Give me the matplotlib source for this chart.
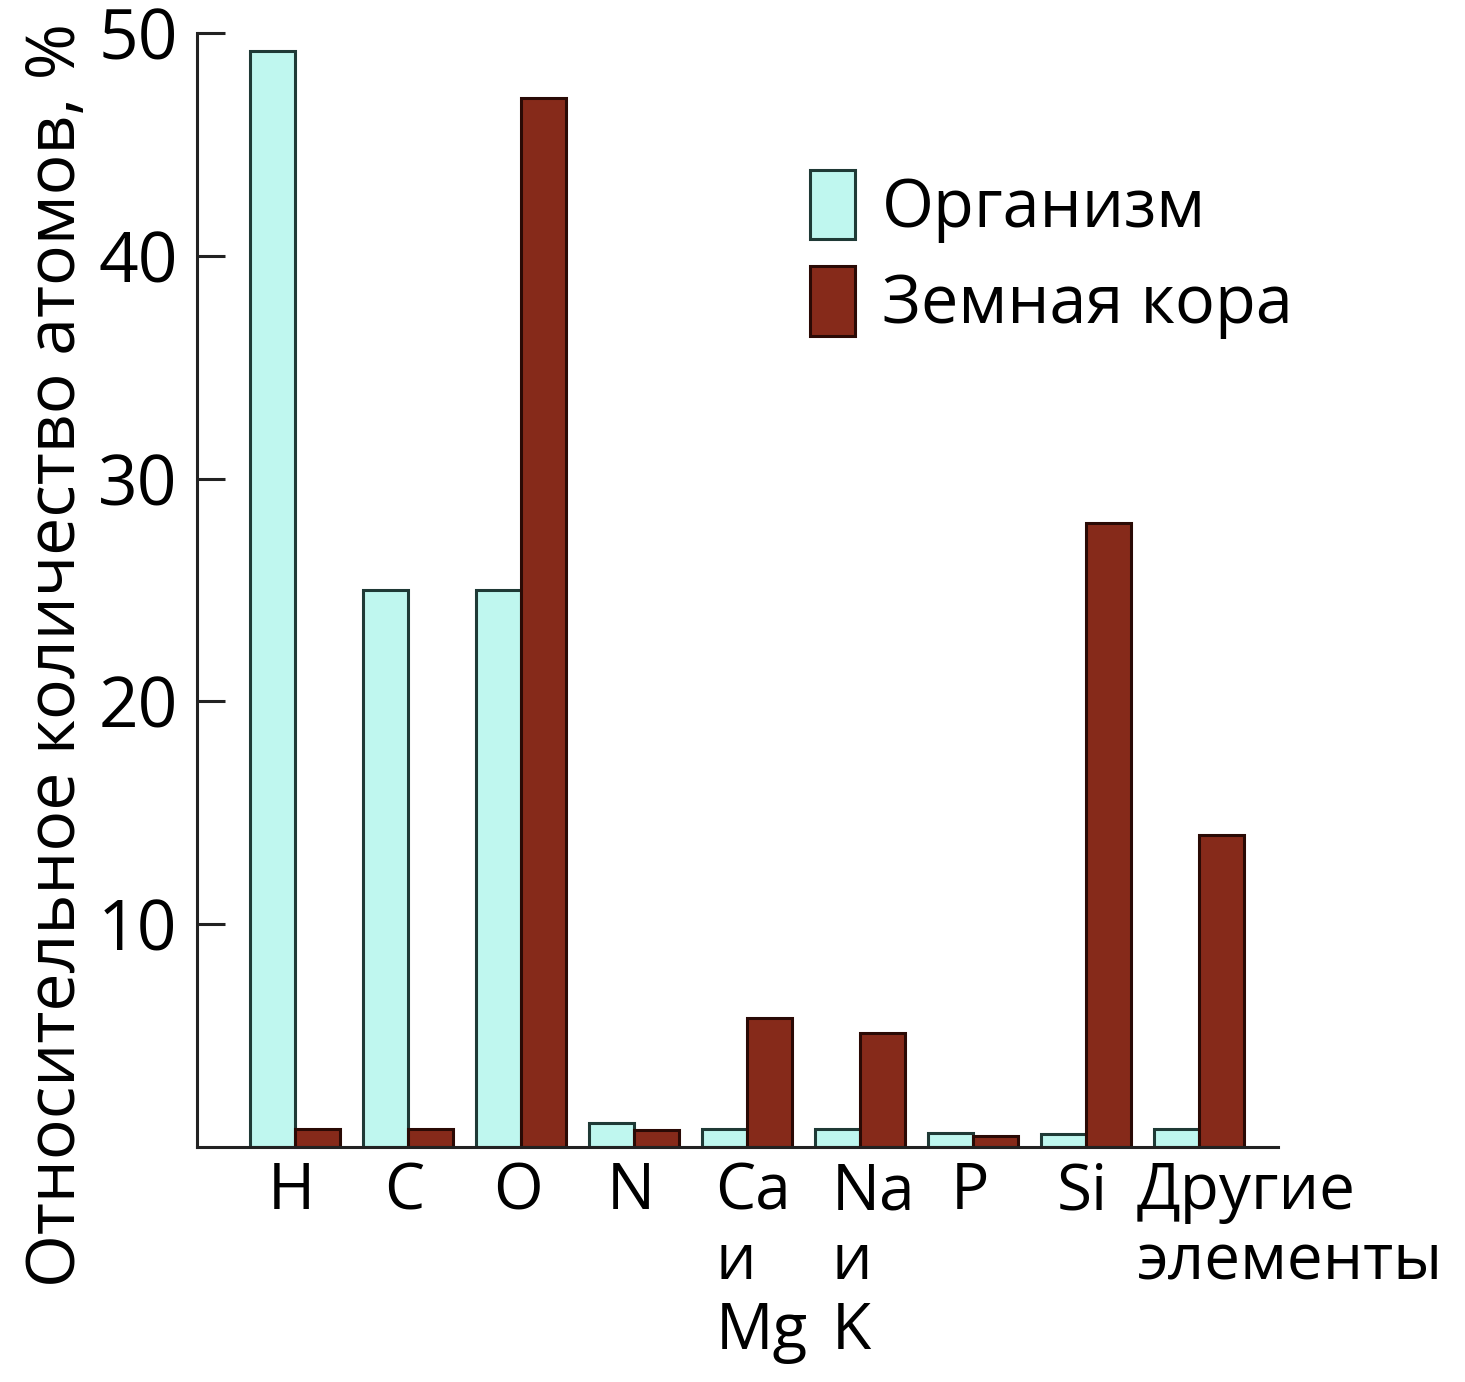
import numpy as np
import matplotlib.pyplot as plt
from matplotlib.patches import Patch

plt.rcParams['font.family'] = ['Open Sans', 'DejaVu Sans']

# Data
labels = ["H", "C", "O", "N", "Ca\nи\nMg", "Na\nи\nK", "P", "Si", "Другие\nэлементы"]
organism = [49.2, 25.0, 25.0, 1.1, 0.8, 0.8, 0.65, 0.6, 0.8]
crust = [0.8, 0.8, 47.1, 0.75, 5.8, 5.1, 0.5, 28.0, 14.0]
series_names = ["Организм", "Земная кора"]

COL_ORG = "#bff7ef"
COL_CRUST = "#862a1a"

fig = plt.figure(figsize=(14.65, 13.82), dpi=100)
ax = fig.add_axes([0.1345, 0.17, 0.7379, 0.8061])

x = np.arange(len(labels))
w = 0.4
ax.bar(x - w / 2, organism, w, color=COL_ORG, edgecolor="#1f3a36", linewidth=2.2)
ax.bar(x + w / 2, crust, w, color=COL_CRUST, edgecolor="#2a0a05", linewidth=2.2)

ax.set_xlim(-0.867, 8.70)
ax.set_ylim(0, 50)

for s in ["top", "right"]:
    ax.spines[s].set_visible(False)
for s in ["left", "bottom"]:
    ax.spines[s].set_linewidth(2.2)
    ax.spines[s].set_color("#222222")

ax.set_yticks([10, 20, 30, 40, 50])
ax.tick_params(axis="y", direction="in", length=20, width=2.2, labelsize=50, pad=14,
               color="#222222")
ax.set_xticks([])

# x labels, multi-line ones left aligned
offsets = {4: -0.28, 5: -0.25, 8: -0.55}
for i, lab in enumerate(labels):
    if i in offsets:
        ax.text(i + offsets[i], -0.012, lab, transform=ax.get_xaxis_transform(),
                ha="left", va="top", fontsize=46, linespacing=1.12)
    else:
        ax.text(i - 0.03, -0.012, lab, transform=ax.get_xaxis_transform(),
                ha="center", va="top", fontsize=46, linespacing=1.12)

ax.set_ylabel("Относительное количество атомов, %", fontsize=49)
ax.yaxis.set_label_coords(-0.098, 0.442)

handles = [Patch(facecolor=COL_ORG, edgecolor="#1f3a36", linewidth=2.2),
           Patch(facecolor=COL_CRUST, edgecolor="#2a0a05", linewidth=2.2)]
fig.legend(handles, series_names, loc="upper left", bbox_to_anchor=(0.553, 0.877),
           frameon=False, fontsize=48, handlelength=0.68, handleheight=1.22,
           handletextpad=0.4, labelspacing=0.35, borderpad=0, borderaxespad=0)

fig.savefig("out.png", dpi=100)
